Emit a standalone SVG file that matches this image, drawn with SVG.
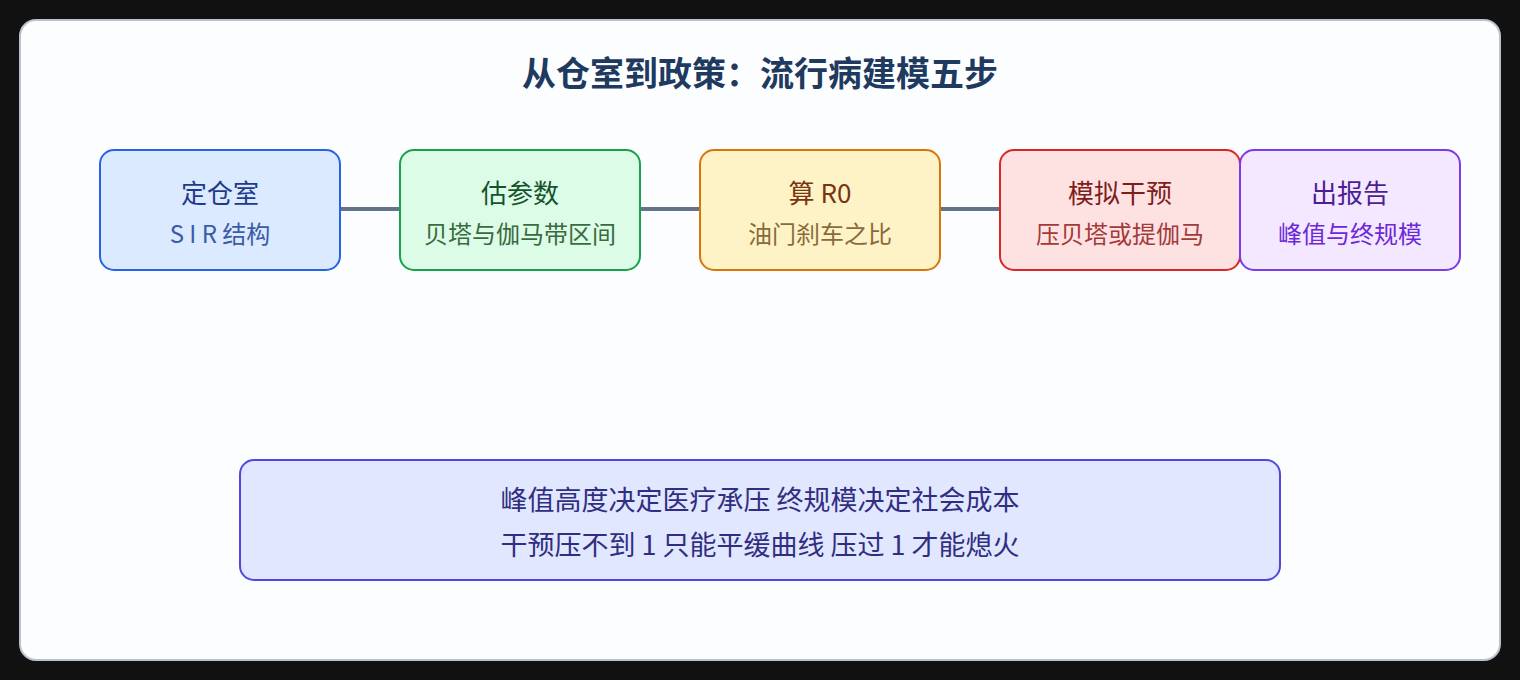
<svg xmlns="http://www.w3.org/2000/svg" width="1520" height="680" viewBox="0 0 1520 680">
<style>
text{font-family:"Noto Sans CJK SC","Noto Sans",sans-serif;text-anchor:middle;dominant-baseline:central}
.title{font-size:34px;font-weight:700;fill:#1e3a5f}
.nt{font-size:26px}
.ns{font-size:24px}
.box{stroke-width:2}
.conn{stroke:#64748b;stroke-width:4;fill:none}
.note{font-size:27px;fill:#312e81}
</style>
<rect x="0" y="0" width="1520" height="680" fill="#111111"/>
<rect x="20" y="20" width="1480" height="640" rx="16" fill="#fcfdff" stroke="#b6c2cf" stroke-width="2"/>
<text class="title" x="760" y="71">从仓室到政策：流行病建模五步</text>
<g id="connectors">
<line class="conn" x1="340" y1="209" x2="400" y2="209"/>
<line class="conn" x1="640" y1="209" x2="700" y2="209"/>
<line class="conn" x1="940" y1="209" x2="1000" y2="209"/>
</g>
<g id="node1">
<rect class="box" x="100" y="150" width="240" height="120" rx="14" fill="#dbeafe" stroke="#2563eb"/>
<text class="nt" x="220" y="191" fill="#1e3a8a">定仓室</text>
<text class="ns" x="220" y="232" fill="#3b5ba5">S I R 结构</text>
</g>
<g id="node2">
<rect class="box" x="400" y="150" width="240" height="120" rx="14" fill="#dcfce7" stroke="#16a34a"/>
<text class="nt" x="520" y="191" fill="#14532d">估参数</text>
<text class="ns" x="520" y="232" fill="#3a6b3f">贝塔与伽马带区间</text>
</g>
<g id="node3">
<rect class="box" x="700" y="150" width="240" height="120" rx="14" fill="#fef3c7" stroke="#d97706"/>
<text class="nt" x="820" y="191" fill="#78350f">算 R0</text>
<text class="ns" x="820" y="232" fill="#8a6a3a">油门刹车之比</text>
</g>
<g id="node4">
<rect class="box" x="1000" y="150" width="240" height="120" rx="14" fill="#fee2e2" stroke="#dc2626"/>
<text class="nt" x="1120" y="191" fill="#7f1d1d">模拟干预</text>
<text class="ns" x="1120" y="232" fill="#a33a3a">压贝塔或提伽马</text>
</g>
<g id="node5">
<rect class="box" x="1240" y="150" width="220" height="120" rx="14" fill="#f3e8ff" stroke="#7c3aed"/>
<text class="nt" x="1350" y="191" fill="#4c1d95">出报告</text>
<text class="ns" x="1350" y="232" fill="#6d28d9">峰值与终规模</text>
</g>
<g id="note">
<rect class="box" x="240" y="460" width="1040" height="120" rx="14" fill="#e0e7ff" stroke="#4f46e5"/>
<text class="note" x="760" y="498">峰值高度决定医疗承压 终规模决定社会成本</text>
<text class="note" x="760" y="543">干预压不到 1 只能平缓曲线 压过 1 才能熄火</text>
</g>
</svg>
